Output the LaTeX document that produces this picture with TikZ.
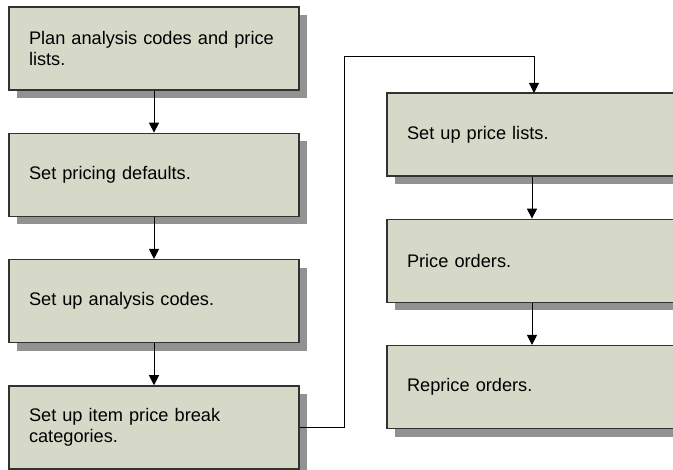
\documentclass[tikz,border=0pt]{standalone}
\usepackage{fontspec}
\setmainfont{Liberation Sans}
\usetikzlibrary{positioning,shadows,arrows.meta}
\definecolor{boxfill}{RGB}{214,217,200}
\definecolor{boxline}{RGB}{50,50,50}
\definecolor{shadowgray}{RGB}{146,146,146}
\tikzset{
  stepbox/.style={draw=boxline, line width=1.3pt, fill=boxfill,
    text width=250pt, inner xsep=20pt, inner ysep=0pt, minimum height=83pt,
    align=left, font=\fontsize{18.2}{21.5}\selectfont,
    drop shadow={shadow xshift=8pt, shadow yshift=-8pt, fill=shadowgray, opacity=1}},
  widebox/.style={stepbox, text width=270pt},
  flow/.style={line width=1pt, -{Triangle[width=10pt,length=10pt]}}
}
\begin{document}
\begin{tikzpicture}[x=1pt,y=1pt]
      \path[use as bounding box, clip] (0,0) rectangle (673,-470);
      % nodes
      \node[stepbox] (plan) at (154,-48.5) {Plan analysis codes and price\\lists.};
      \node[stepbox, below=42pt of plan] (defaults) {Set pricing defaults.};
      \node[stepbox, below=42pt of defaults] (codes) {Set up analysis codes.};
      \node[stepbox, below=42pt of codes] (breaks) {Set up item price break\\categories.};
      \node[widebox] (lists) at (542,-134.5) {Set up price lists.};
      \node[widebox, below=42pt of lists] (orders) {Price orders.};
      \node[widebox, below=42pt of orders] (reprice) {Reprice orders.};
      \coordinate (bend) at (344,-57);
      \coordinate (entry) at (534,-93);
      % lines
      \draw[flow] (plan) -- (defaults);
      \draw[flow] (defaults) -- (codes);
      \draw[flow] (codes) -- (breaks);
      \draw[flow] (breaks.east) -| (bend) -| (entry);
      \draw[flow] ([xshift=-10pt]lists.south) -- ([xshift=-10pt]orders.north);
      \draw[flow] ([xshift=-10pt]orders.south) -- ([xshift=-10pt]reprice.north);
\end{tikzpicture}
\end{document}
